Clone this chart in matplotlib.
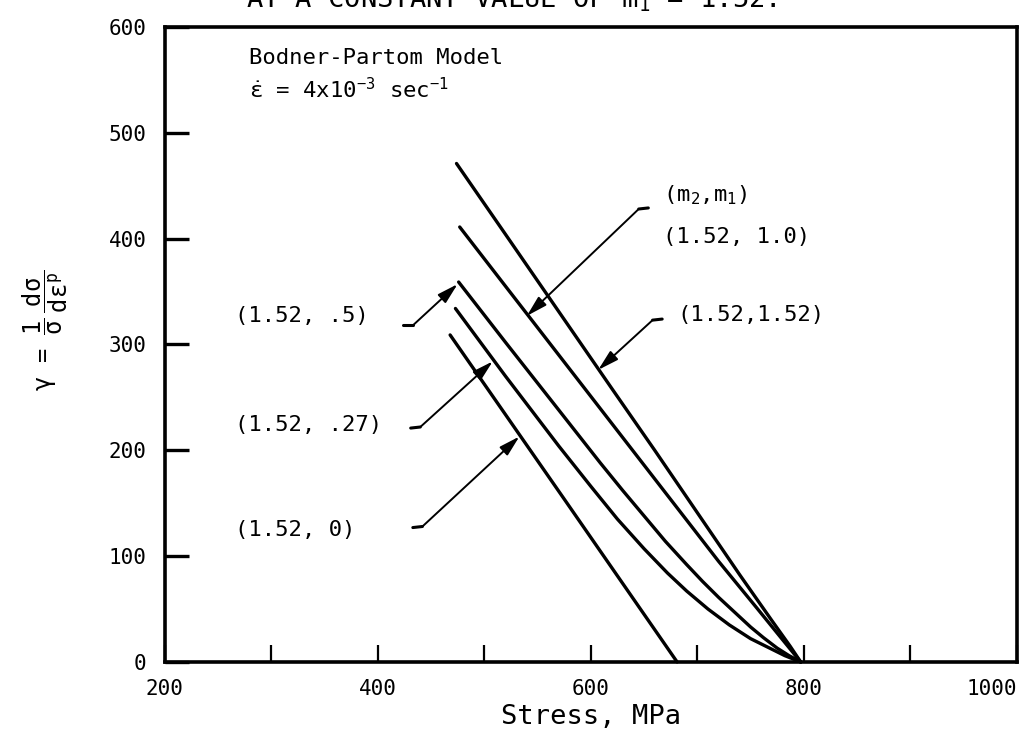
import matplotlib
matplotlib.use("Agg")
import matplotlib.pyplot as plt

plt.rcParams['font.family'] = ['DejaVu Sans Mono', 'DejaVu Sans']
plt.rcParams['mathtext.fontset'] = 'custom'
plt.rcParams['mathtext.rm'] = 'DejaVu Sans Mono'
plt.rcParams['mathtext.it'] = 'DejaVu Sans Mono'
plt.rcParams['mathtext.bf'] = 'DejaVu Sans Mono:bold'

# ---- data ----
stress_m1_152 = [474, 520, 570, 620, 660, 700, 740, 770, 787, 797]
gamma_m1_152 = [471, 404, 331, 258, 200, 141, 82, 39, 15, 0]

stress_m1_10 = [477, 520, 570, 610, 640, 680, 720, 755, 780, 797]
gamma_m1_10 = [411, 355, 290, 238, 199, 147, 95, 52, 21, 0]

stress_m1_05 = [476, 520, 570, 609, 630, 650, 670, 690, 705, 720, 735, 750,
                762, 775, 786, 797]
gamma_m1_05 = [359, 302, 238, 188, 162, 138, 114, 92, 76, 61, 47, 33,
               23, 13, 6, 0]

stress_m1_027 = [473, 520, 570, 600, 625, 650, 672, 690, 710, 730, 750, 766,
                 782, 797]
gamma_m1_027 = [334, 270, 204, 166, 135, 107, 84, 67, 50, 35, 22, 14,
                6, 0]

stress_m1_0 = [468, 575, 681]
gamma_m1_0 = [309, 154, 0]

series = [
    (stress_m1_152, gamma_m1_152),
    (stress_m1_10, gamma_m1_10),
    (stress_m1_05, gamma_m1_05),
    (stress_m1_027, gamma_m1_027),
    (stress_m1_0, gamma_m1_0),
]

x_major = [200, 400, 600, 800, 1000]
x_minor = [300, 500, 700, 900]
y_ticks = [0, 100, 200, 300, 400, 500, 600]

# labels: (text, text position, hook start, hook corner, arrow tip)
labels = [
    ("(1.52, .5)", (266, 327), (424, 318), (433, 318), (475, 357)),
    ("(1.52, .27)", (266, 224), (431, 221), (440, 222), (508, 284)),
    ("(1.52, 0)", (266, 125), (433, 127), (442, 128), (533, 213)),
    ("(1.52, 1.0)", (668, 402), (654, 429), (645, 428), (540, 327)),
    ("(1.52,1.52)", (681, 328), (667, 324), (658, 323), (607, 276)),
]

fig = plt.figure(figsize=(10.2, 7.49), dpi=100)
ax = fig.add_axes([0.1613, 0.1162, 0.8358, 0.8478])

for xs, ys in series:
    ax.plot(xs, ys, color='black', lw=2.4, solid_capstyle='round',
            solid_joinstyle='round', clip_on=False)

for txt, tpos, hs, hc, tip in labels:
    ax.text(tpos[0], tpos[1], txt, fontsize=16, va='center', ha='left')
    ax.plot([hs[0], hc[0]], [hs[1], hc[1]], color='black', lw=2.2,
            solid_capstyle='round')
    ax.annotate('', xy=tip, xytext=hc,
                arrowprops=dict(arrowstyle='-|>,head_length=0.9,head_width=0.25',
                                color='black', lw=1.4, shrinkA=0, shrinkB=0,
                                mutation_scale=14))

ax.text(668, 441, r'(m$_2$,m$_1$)', fontsize=16, va='center', ha='left')

ax.text(279, 571, 'Bodner-Partom Model', fontsize=16, va='center', ha='left')
ax.text(279, 541, r'$\dot{\epsilon}$ = 4x10$^{-3}$ sec$^{-1}$', fontsize=16,
        va='center', ha='left')

ax.set_xlim(200, 1000)
ax.set_ylim(0, 600)
ax.set_xticks(x_major)
ax.set_xticks(x_minor, minor=True)
ax.set_yticks(y_ticks)
ax.tick_params(axis='x', which='both', direction='in', length=12, width=1.6,
               labelsize=15, pad=12, top=False)
ax.tick_params(axis='y', which='both', direction='in', length=17, width=2.4,
               labelsize=15, pad=13, right=False)
xlabels = ax.get_xticklabels()
xlabels[-1].set_horizontalalignment('right')
for s in ax.spines.values():
    s.set_linewidth(2.6)

ax.set_xlabel('Stress, MPa', fontsize=19.5, labelpad=4)
fig.text(45 / 1020, 1 - 330 / 749,
         r'$\gamma$ = $\dfrac{1}{\sigma}\ \dfrac{d\sigma}{d\epsilon^{p}}$',
         rotation=90, fontsize=17, ha='center', va='center')

fig.text(246 / 1020, 1 - 8 / 749, r'AT A CONSTANT VALUE OF m$_1$ = 1.52.',
         fontsize=19.5, ha='left', va='baseline')

fig.savefig('out.png', dpi=100)
